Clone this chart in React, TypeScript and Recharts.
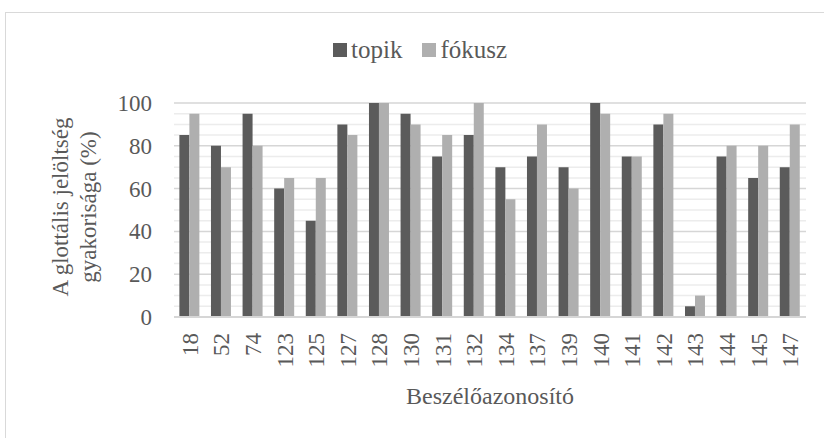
import React from "react";
import { Bar, BarChart, CartesianGrid, Legend, ReferenceLine, XAxis, YAxis } from "recharts";

const speakers = ["18", "52", "74", "123", "125", "127", "128", "130", "131", "132", "134", "137", "139", "140", "141", "142", "143", "144", "145", "147"];
const topik = [85, 80, 95, 60, 45, 90, 100, 95, 75, 85, 70, 75, 70, 100, 75, 90, 5, 75, 65, 70];
const fokusz = [95, 70, 80, 65, 65, 85, 100, 90, 85, 100, 55, 90, 60, 95, 75, 95, 10, 80, 80, 90];
const majorTicks = [0, 20, 40, 60, 80, 100];
const minorTicks = [5, 10, 15, 25, 30, 35, 45, 50, 55, 65, 70, 75, 85, 90, 95];
const seriesNames = ["topik", "fókusz"];
const yTitle = ["A glottális jelöltség", "gyakorisága (%)"];
const xTitle = "Beszélőazonosító";

const data = speakers.map((s, i) => ({ id: s, topik: topik[i], fokusz: fokusz[i] }));

const FONT = "'Liberation Serif', 'DejaVu Serif', serif";
const TEXT = "#595959";
const DARK = "#5b5b5b";
const LIGHT = "#afafaf";

function XTick(props: any) {
  const { x, y, payload } = props;
  return (
    <text
      transform={`translate(${x},${y + 16}) rotate(-90)`}
      textAnchor="end"
      dy="0.35em"
      fill={TEXT}
      fontSize={23}
      fontFamily={FONT}
    >
      {payload.value}
    </text>
  );
}

function YTick(props: any) {
  const { x, y, payload } = props;
  return (
    <text x={x} y={y} dy="0.35em" textAnchor="end" fill={TEXT} fontSize={23} fontFamily={FONT}>
      {payload.value}
    </text>
  );
}

function YTitle(props: any) {
  const { viewBox } = props;
  const cy = viewBox.y + viewBox.height / 2 - 3;
  return (
    <text
      transform={`translate(68,${cy}) rotate(-90)`}
      textAnchor="middle"
      fill={TEXT}
      fontSize={23}
      fontFamily={FONT}
    >
      <tspan x={0} dy={0}>{yTitle[0]}</tspan>
      <tspan x={0} dy={28}>{yTitle[1]}</tspan>
    </text>
  );
}

function LegendBox() {
  const colors = [DARK, LIGHT];
  return (
    <div style={{ display: "flex", alignItems: "center", fontFamily: FONT, fontSize: 25, color: TEXT }}>
      {seriesNames.map((n, i) => (
        <div key={n} style={{ display: "flex", alignItems: "center", marginRight: i === 0 ? 20 : 0 }}>
          <span style={{ width: 14, height: 14, background: colors[i], display: "inline-block", marginRight: 4 }} />
          <span>{n}</span>
        </div>
      ))}
    </div>
  );
}

export default function App() {
  return (
    <div style={{ position: "absolute", left: 0, top: 0, width: 824, height: 438, overflow: "hidden", background: "#fff" }}>
      <div style={{ position: "absolute", left: 5, top: 12, width: 900, height: 500, border: "1px solid #d9d9d9" }} />
      <BarChart
        width={824}
        height={438}
        data={data}
        margin={{ top: 103, right: 18, left: 0, bottom: 0 }}
        barCategoryGap="17%"
        barGap={0}
        style={{ position: "absolute", left: 0, top: 0 }}
      >
        {minorTicks.map((t) => (
          <ReferenceLine key={t} y={t} stroke="#ececec" strokeWidth={1.5} zIndex={-50} />
        ))}
        <CartesianGrid vertical={false} stroke="#d6d6d6" strokeWidth={1.5} />
        <XAxis
          dataKey="id"
          interval={0}
          height={121}
          tickLine={false}
          tickSize={0}
          tickMargin={0}
          axisLine={{ stroke: "#d6d6d6", strokeWidth: 2 }}
          tick={<XTick />}
          label={{ value: xTitle, position: "insideBottom", offset: 34, fill: TEXT, fontSize: 24, fontFamily: FONT }}
        />
        <YAxis
          width={174}
          domain={[0, 100]}
          ticks={majorTicks}
          axisLine={false}
          tickLine={false}
          tickSize={0}
          tickMargin={22}
          tick={<YTick />}
          label={<YTitle />}
        />
        <Legend
          layout="horizontal"
          verticalAlign="middle"
          align="center"
          wrapperStyle={{ top: 36, left: 333, width: "auto" }}
          content={<LegendBox />}
        />
        <Bar dataKey="topik" name={seriesNames[0]} fill={DARK} isAnimationActive={false} />
        <Bar dataKey="fokusz" name={seriesNames[1]} fill={LIGHT} isAnimationActive={false} />
      </BarChart>
    </div>
  );
}
